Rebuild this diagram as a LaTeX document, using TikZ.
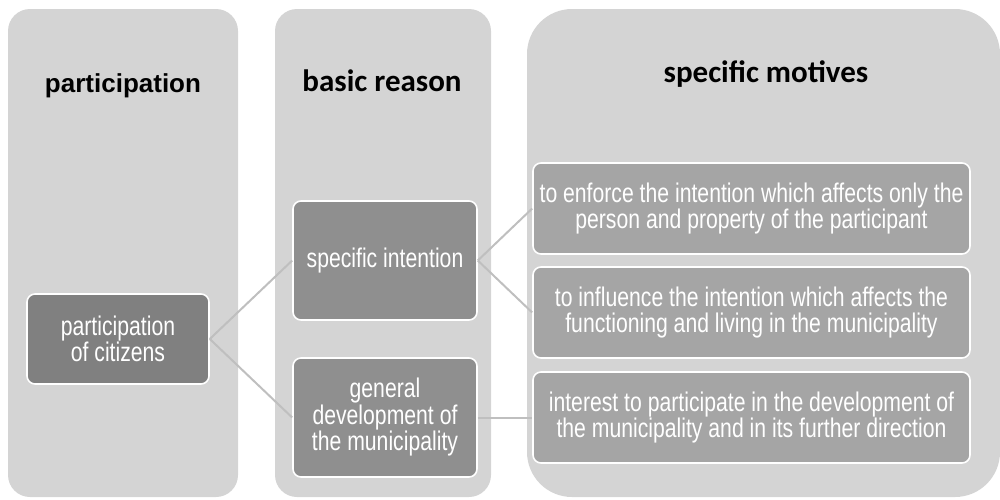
\documentclass[tikz,border=0pt]{standalone}
\usepackage{fontspec}
\setmainfont{Liberation Sans}
\newfontfamily\boxfont[FakeStretch=0.785]{Liberation Sans}
\newfontfamily\headsans{Liberation Sans}
\newfontfamily\headcal{Carlito}
\definecolor{colbg}{HTML}{D4D4D4}
\definecolor{darkbox}{HTML}{808080}
\definecolor{midbox}{HTML}{8F8F8F}
\definecolor{lightbox}{HTML}{A5A5A5}
\definecolor{linkgray}{HTML}{BFBFBF}
\begin{document}
\begin{tikzpicture}[x=1pt,y=-1pt,
  column/.style={fill=colbg, draw=none, inner sep=0pt},
  itembox/.style={draw=white, line width=1.6pt, rounded corners=8pt, inner sep=0pt,
    align=center, text=white, font=\boxfont\fontsize{27}{26.5}\selectfont},
  head/.style={anchor=base, inner sep=0pt, text=black},
  link/.style={draw=linkgray, line width=2pt}]
\useasboundingbox (0,0) rectangle (1000,499);

% three column panels
\node[column, rounded corners=22pt, minimum width=230pt, minimum height=488pt] (c1) at (123,253) {};
\node[column, rounded corners=22pt, minimum width=216pt, minimum height=488pt] (c2) at (383,253) {};
\node[column, rounded corners=45pt, minimum width=473pt, minimum height=488pt] (c3) at (763.5,253) {};

% column headings
\node[head, font=\headsans\bfseries\fontsize{26}{30}\selectfont] (h1) at (123,92) {participation};
\node[head, font=\headcal\bfseries\fontsize{31}{34}\selectfont] (h2) at (382,91) {basic reason};
\node[head, font=\headcal\bfseries\fontsize{31}{34}\selectfont] (h3) at (766,82) {specific motives};

% boxes
\node[itembox, fill=darkbox, minimum width=182pt, minimum height=90pt] (pc) at (118,339) {participation\\of citizens};
\node[itembox, fill=midbox, minimum width=184pt, minimum height=119pt] (si) at (385,260.5) {specific intention};
\node[itembox, fill=midbox, minimum width=184pt, minimum height=119pt] (gd) at (385,417.5) {general\\development of\\the municipality};
\node[itembox, fill=lightbox, minimum width=437pt, minimum height=91pt] (m1) at (751.5,208.5) {to enforce the intention which affects only the\\person and property of the participant};
\node[itembox, fill=lightbox, minimum width=437pt, minimum height=91pt] (m2) at (751.5,312.5) {to influence the intention which affects the\\functioning and living in the municipality};
\node[itembox, fill=lightbox, minimum width=437pt, minimum height=91pt] (m3) at (751.5,417.5) {interest to participate in the development of\\the municipality and in its further direction};

% connectors
\draw[link] (pc.east) -- (si.west);
\draw[link] (pc.east) -- (gd.west);
\draw[link] (si.east) -- (m1.west);
\draw[link] (si.east) -- (m2.west);
\draw[link] (gd.east) -- (m3.west);
\end{tikzpicture}
\end{document}
